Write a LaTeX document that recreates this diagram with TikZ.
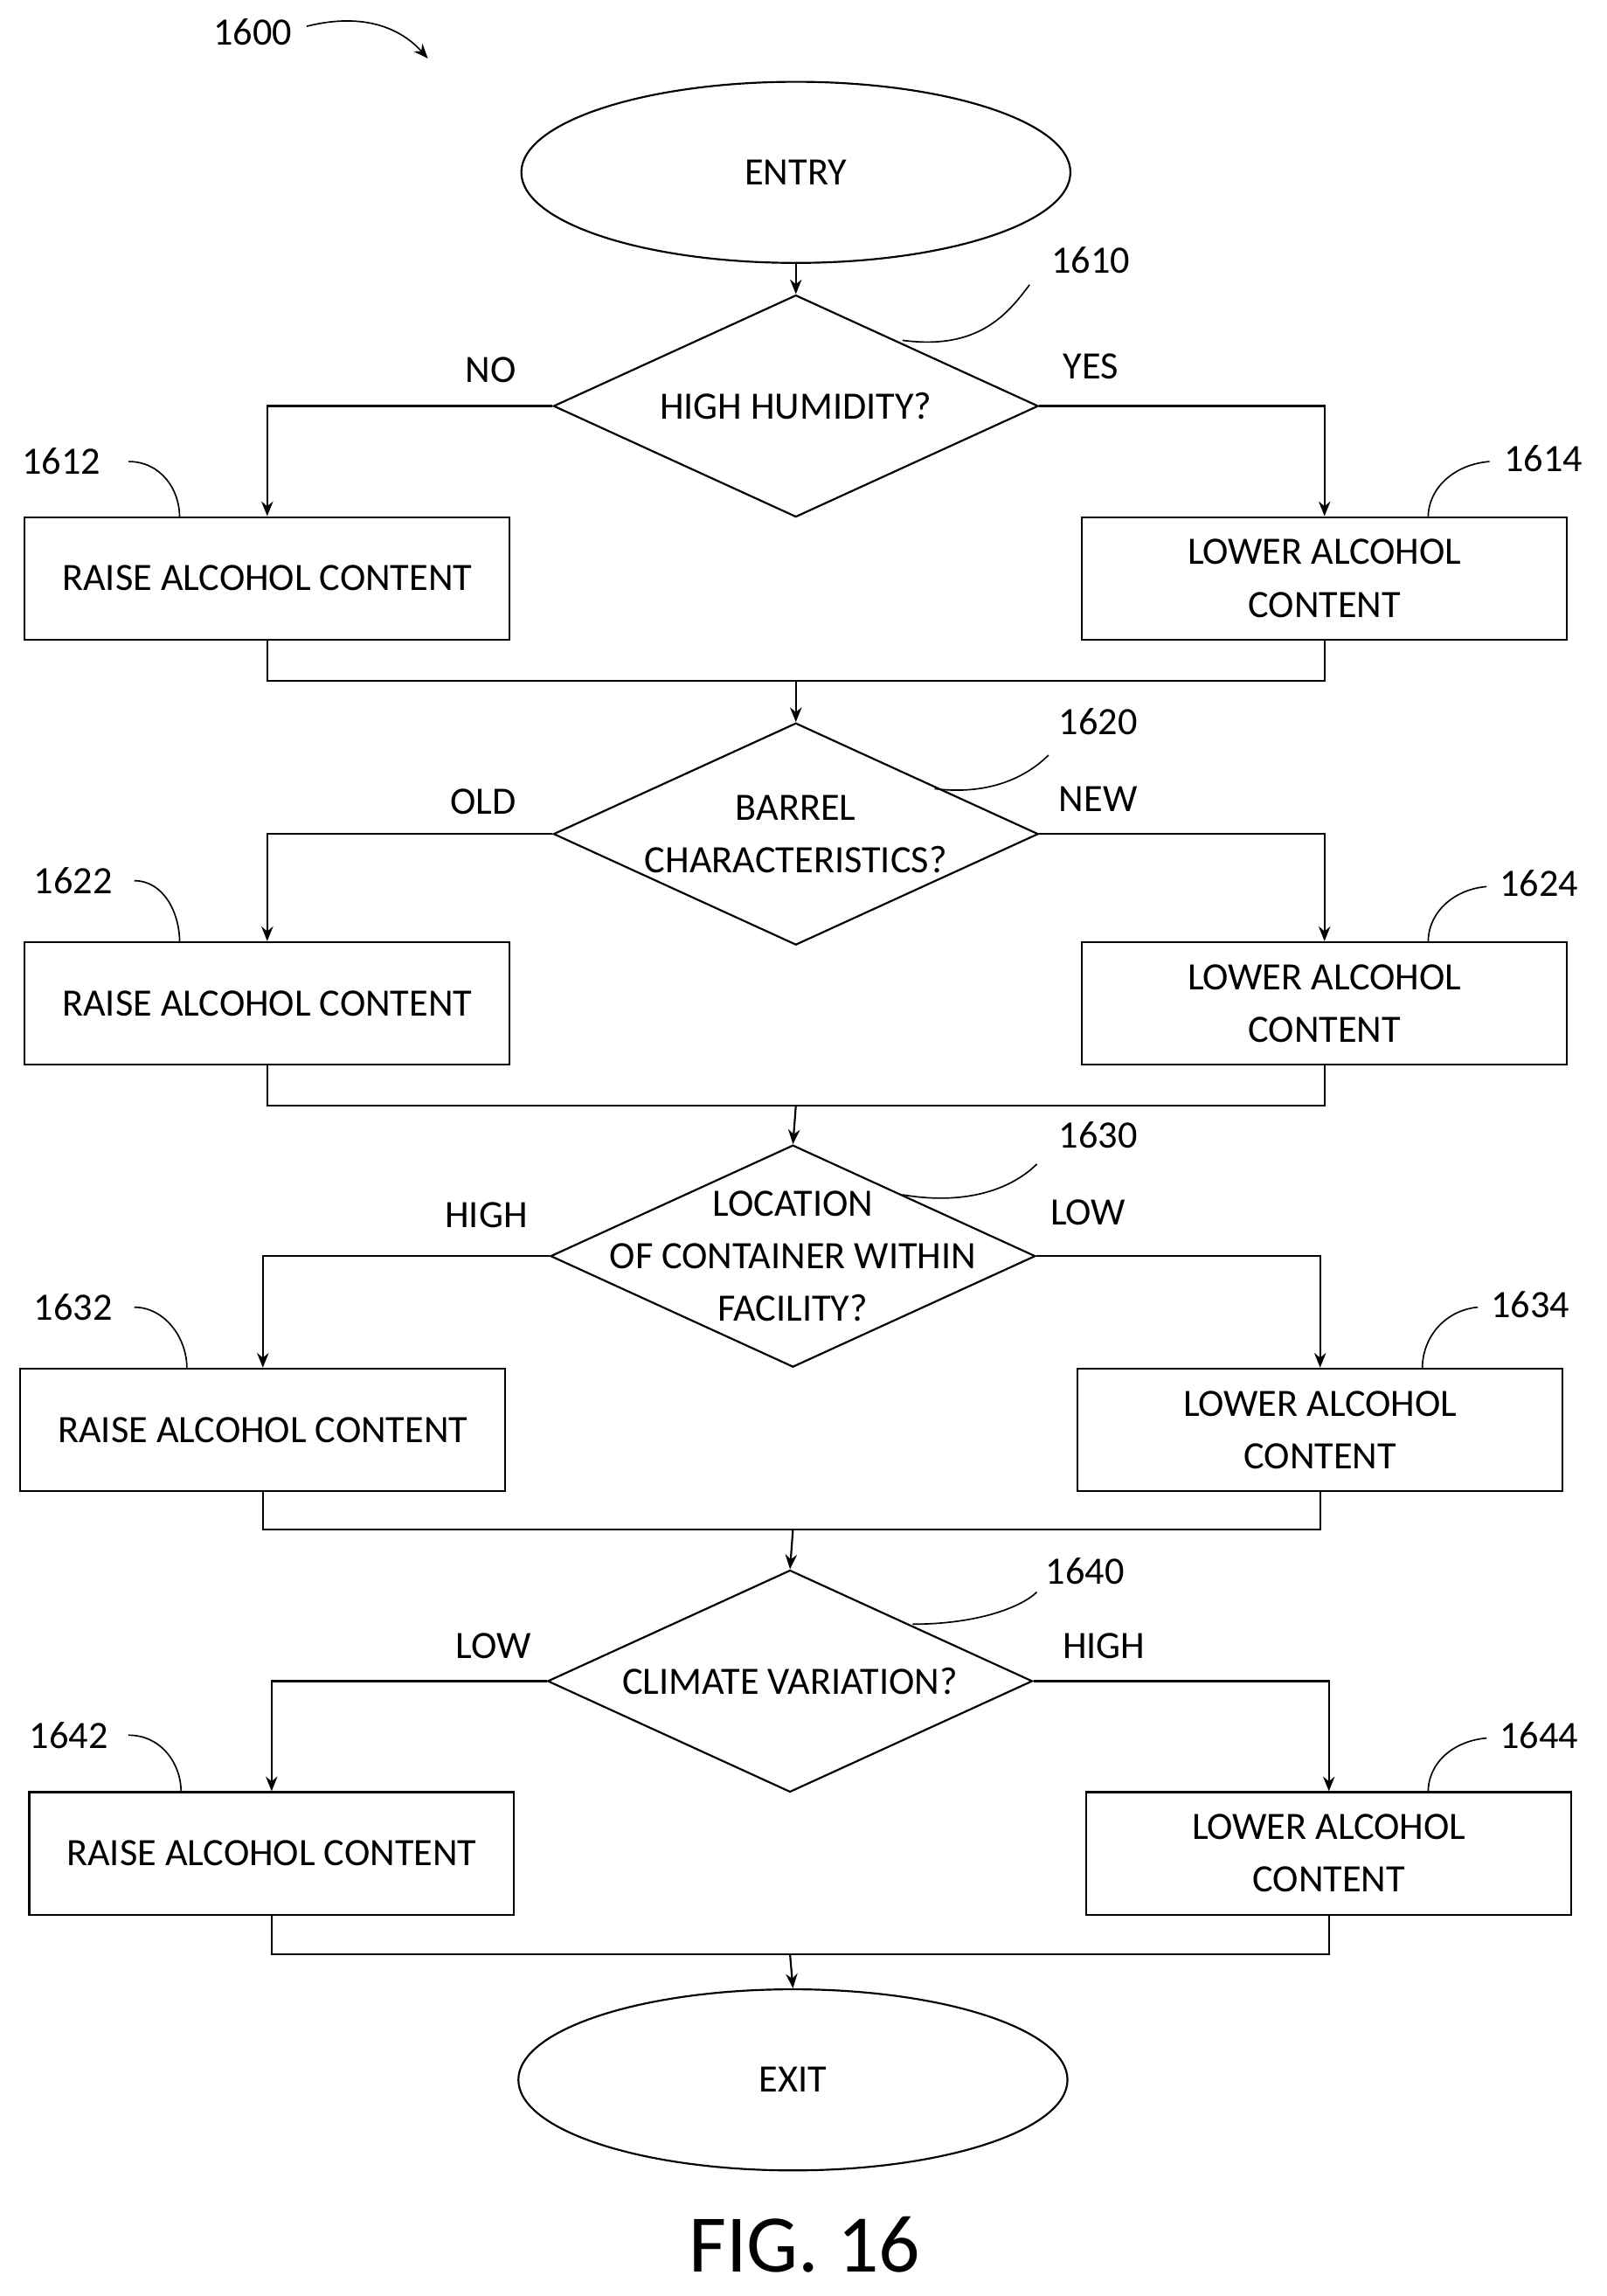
\documentclass[tikz,border=0pt]{standalone}
\usepackage{fontspec}
\setmainfont{Carlito}
\usetikzlibrary{shapes.geometric,arrows.meta}
\begin{document}
\begin{tikzpicture}[x=1pt,y=-1pt,
  every node/.style={font=\fontsize{26.5}{36}\selectfont},
  box/.style={draw,line width=1.3pt,minimum width=332pt,minimum height=84pt,align=center,inner sep=0},
  term/.style={draw,ellipse,line width=1.3pt,minimum width=376pt,minimum height=124pt},
  dia/.style={draw,diamond,aspect=2.19,line width=1.3pt,minimum width=332pt,minimum height=152pt,inner sep=0},
  dtext/.style={align=center,inner sep=0},
  ln/.style={line width=1.3pt},
  arr/.style={line width=1.3pt,-{Stealth[length=10pt,width=8pt]}},
  lead/.style={line width=1pt}]
\useasboundingbox (0,0) rectangle (1100,1572);
\node (l1600) at (173,22) {1600};
\draw[lead,-{Stealth[length=10pt,width=8pt]}] (210,18) .. controls (250,8) and (275,20) .. (293,40);
\node[term] (entry) at (545,118) {ENTRY};
% 1
\node[dia] (d1) at (545,278) {};
\node[dtext] (t1) at (d1.center) {HIGH HUMIDITY?};
\node[box] (b1612) at (183,396) {RAISE ALCOHOL CONTENT};
\node[box] (b1614) at (907,396) {LOWER ALCOHOL\\CONTENT};
\node at (336,253) {NO};\node at (747,251) {YES};
\node (l1610) at (747,178) {1610};\node (l1612) at (42,316) {1612};\node (l1614) at (1057,314) {1614};
\draw[lead] (618,233) .. controls (670,240) and (690,215) .. (705,195);
\draw[lead] (88,316) .. controls (110,316) and (123,335) .. (123,354);
\draw[lead] (1020,316) .. controls (995,318) and (978,335) .. (978,354);
\draw[arr] (entry.south) -- (d1.north);
\draw[arr] (d1.west) -| (b1612.north);
\draw[arr] (d1.east) -| (b1614.north);
\coordinate (m1) at (545,466);
\draw[ln] (b1612.south) |- (m1) -| (b1614.south);
% 2
\node[dia] (d2) at (545,571) {};
\node[dtext] (t2) at (d2.center) {BARREL\\CHARACTERISTICS?};
\node[box] (b1622) at (183,687) {RAISE ALCOHOL CONTENT};
\node[box] (b1624) at (907,687) {LOWER ALCOHOL\\CONTENT};
\node at (331,549) {OLD};\node at (752,547) {NEW};
\node (l1620) at (752,494) {1620};\node (l1622) at (50,603) {1622};\node (l1624) at (1054,605) {1624};
\draw[lead] (640,540) .. controls (680,545) and (705,530) .. (718,517);
\draw[lead] (92,603) .. controls (112,603) and (123,625) .. (123,645);
\draw[lead] (1018,607) .. controls (995,609) and (978,625) .. (978,645);
\draw[arr] (m1) -- (d2.north);
\draw[arr] (d2.west) -| (b1622.north);
\draw[arr] (d2.east) -| (b1624.north);
\coordinate (m2) at (545,757);
\draw[ln] (b1622.south) |- (m2) -| (b1624.south);
% 3
\node[dia] (d3) at (543,860) {};
\node[dtext] (t3) at (d3.center) {LOCATION\\OF CONTAINER WITHIN\\FACILITY?};
\node[box] (b1632) at (180,979) {RAISE ALCOHOL CONTENT};
\node[box] (b1634) at (904,979) {LOWER ALCOHOL\\CONTENT};
\node at (333,832) {HIGH};\node at (745,830) {LOW};
\node (l1630) at (752,777) {1630};\node (l1632) at (50,895) {1632};\node (l1634) at (1048,893) {1634};
\draw[lead] (618,818) .. controls (665,826) and (695,812) .. (710,797);
\draw[lead] (92,895) .. controls (112,895) and (128,915) .. (128,937);
\draw[lead] (1012,895) .. controls (990,897) and (974,915) .. (974,937);
\draw[arr] (m2) -- (d3.north);
\draw[arr] (d3.west) -| (b1632.north);
\draw[arr] (d3.east) -| (b1634.north);
\coordinate (m3) at (543,1047);
\draw[ln] (b1632.south) |- (m3) -| (b1634.south);
% 4
\node[dia] (d4) at (541,1151) {};
\node[dtext] (t4) at (d4.center) {CLIMATE VARIATION?};
\node[box] (b1642) at (186,1269) {RAISE ALCOHOL CONTENT};
\node[box] (b1644) at (910,1269) {LOWER ALCOHOL\\CONTENT};
\node at (338,1127) {LOW};\node at (756,1127) {HIGH};
\node (l1640) at (743,1076) {1640};\node (l1642) at (47,1188) {1642};\node (l1644) at (1054,1188) {1644};
\draw[lead] (625,1112) .. controls (670,1112) and (700,1100) .. (710,1090);
\draw[lead] (88,1188) .. controls (110,1188) and (124,1207) .. (124,1227);
\draw[lead] (1018,1190) .. controls (995,1192) and (978,1207) .. (978,1227);
\draw[arr] (m3) -- (d4.north);
\draw[arr] (d4.west) -| (b1642.north);
\draw[arr] (d4.east) -| (b1644.north);
\coordinate (m4) at (541,1338);
\draw[ln] (b1642.south) |- (m4) -| (b1644.south);
\node[term] (exit) at (543,1424) {EXIT};
\draw[arr] (m4) -- (exit.north);
\node[font=\fontsize{56}{66}\selectfont] (fig) at (551,1537) {FIG. 16};
\end{tikzpicture}
\end{document}
